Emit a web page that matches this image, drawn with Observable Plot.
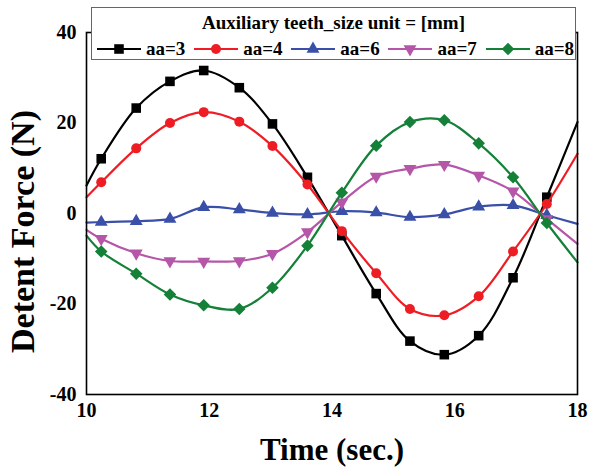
<!DOCTYPE html>
<html>
<head>
<meta charset="utf-8">
<script src="https://cdn.jsdelivr.net/npm/d3@7"></script>
<script src="https://cdn.jsdelivr.net/npm/@observablehq/plot@0.6"></script>
<style>
  body { margin: 0; background: #fff; }
  #wrap { position: relative; width: 589px; height: 471px; font-family: 'Liberation Serif', serif; }
  #legend { position: absolute; left: 91px; top: 7px; width: 485px; height: 53px; box-sizing: border-box;
            border: 1px solid #666; background: #fff; font-family: 'Liberation Serif', serif; font-weight: 700; color: #000; }
  #legend .title { position: absolute; left: 0; right: 0; top: 5px; text-align: center; font-size: 19px; line-height: 20px; }
  #legend .row { position: absolute; left: 5px; right: 1px; top: 31px; height: 20px; display: flex; justify-content: space-between; align-items: center; }
  #legend .item { display: flex; align-items: center; font-size: 19px; line-height: 20px; }
  #legend .item svg { margin-right: 5px; }
</style>
</head>
<body>
<div id="wrap">
  <div id="chart"></div>
  <div id="legend"><div class="title">Auxiliary teeth_size unit = [mm]</div><div class="row"></div></div>
</div>
<script>
// ---- data ----
const times = [10, 10.24, 10.81, 11.36, 11.91, 12.49, 13.03, 13.60, 14.16, 14.72, 15.27, 15.83, 16.39, 16.95, 17.50, 18];
const aa3 = [6.2, 12.1, 23.3, 29.2, 31.6, 27.8, 19.8, 8.0, -4.9, -17.7, -28.2, -31.2, -27.0, -14.2, 3.6, 20.2];
const aa4 = [3.6, 6.9, 14.4, 20.0, 22.4, 20.3, 14.9, 6.4, -3.9, -13.2, -21.1, -22.5, -18.3, -8.4, 2.1, 13.2];
const aa6 = [-2.0, -1.9, -1.7, -1.2, 1.4, 0.9, 0.1, -0.2, 0.5, 0.2, -0.8, -0.2, 1.5, 1.8, -0.4, -2.3];
const aa7 = [-3.6, -5.6, -8.8, -10.5, -10.6, -10.5, -8.9, -4.1, 2.5, 8.2, 9.9, 10.8, 8.4, 4.9, -1.2, -6.7];
const aa8 = [-4.9, -8.4, -13.3, -17.9, -20.3, -21.1, -16.4, -7.1, 4.6, 15.0, 20.2, 20.6, 15.5, 8.0, -2.1, -10.8];
const seriesNames = ["aa=3", "aa=4", "aa=6", "aa=7", "aa=8"];
const xTicks = [10, 12, 14, 16, 18];
const yTicks = [-40, -20, 0, 20, 40];

// ---- styling ----
const FONT = "'Liberation Serif', serif";
const seriesValues = [aa3, aa4, aa6, aa7, aa8];
const seriesColors = ["#000000", "#ee1d24", "#3a4fa8", "#b556a8", "#148038"];

const triDown = { draw(ctx, size) {
  const y = -Math.sqrt(size / (Math.sqrt(3) * 3));
  ctx.moveTo(0, -y * 2); ctx.lineTo(-Math.sqrt(3) * y, y); ctx.lineTo(Math.sqrt(3) * y, y); ctx.closePath();
}};
const diamondSq = { draw(ctx, size) {
  const h = Math.sqrt(size) / Math.SQRT2;
  ctx.moveTo(0, -h); ctx.lineTo(h, 0); ctx.lineTo(0, h); ctx.lineTo(-h, 0); ctx.closePath();
}};
const seriesSymbols = [d3.symbolSquare, d3.symbolCircle, d3.symbolTriangle, triDown, diamondSq];
const seriesR = [5.4, 5, 4.8, 4.8, 5.0];

const marks = [];
seriesNames.forEach((name, k) => {
  const rows = times.map((t, i) => ({ t, v: seriesValues[k][i], s: name }));
  marks.push(Plot.line(rows, { x: "t", y: "v", stroke: seriesColors[k], strokeWidth: 2.2, curve: "catmull-rom" }));
  marks.push(Plot.dot(rows.slice(1, -1), { x: "t", y: "v", fill: seriesColors[k], stroke: "none",
    symbol: seriesSymbols[k], r: seriesR[k] }));
});

const chart = Plot.plot({
  width: 589, height: 471,
  marginLeft: 86, marginRight: 12, marginTop: 32, marginBottom: 77,
  style: { fontFamily: FONT, fontWeight: "bold", color: "#000", background: "#fff" },
  x: { domain: [10, 18] },
  y: { domain: [-40, 40] },
  marks: [
    ...marks,
    Plot.frame({ stroke: "#000", strokeWidth: 1.6 }),
    Plot.axisX({ ticks: xTicks, tickSize: 0, tickPadding: 8, fontSize: 20, fontFamily: FONT, fontWeight: "bold", label: null, tickFormat: d => String(d) }),
    Plot.axisY({ ticks: yTicks, tickSize: 0, tickPadding: 10, fontSize: 20, fontFamily: FONT, fontWeight: "bold", label: null, tickFormat: d => String(d) }),
    Plot.text(["Time (sec.)"], { frameAnchor: "bottom", text: d => d, textAnchor: "middle", lineAnchor: "bottom", dy: 65, fontSize: 31, fontFamily: FONT, fontWeight: "bold" }),
    Plot.text(["Detent Force (N)"], { frameAnchor: "left", text: d => d, textAnchor: "middle", lineAnchor: "middle", dx: -63, dy: 18, rotate: -90, fontSize: 34, fontFamily: FONT, fontWeight: "bold" })
  ]
});
document.getElementById("chart").appendChild(chart);

// ---- legend ----
const row = d3.select("#legend .row");
seriesNames.forEach((name, k) => {
  const item = row.append("div").attr("class", "item");
  const svg = item.append("svg").attr("width", 44).attr("height", 16);
  svg.append("line").attr("x1", 0).attr("x2", 44).attr("y1", 8).attr("y2", 8)
    .attr("stroke", seriesColors[k]).attr("stroke-width", 2.2);
  svg.append("path").attr("transform", "translate(22,8)")
    .attr("d", d3.symbol(seriesSymbols[k], Math.PI * seriesR[k] * seriesR[k])())
    .attr("fill", seriesColors[k]);
  item.append("span").text(name);
});
</script>
</body>
</html>
